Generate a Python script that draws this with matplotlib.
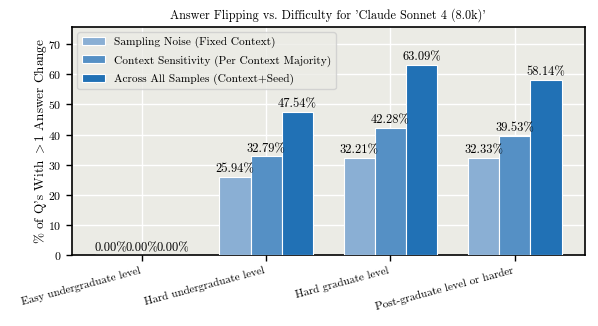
import numpy as np
import matplotlib
matplotlib.use("Agg")
import matplotlib.pyplot as plt

plt.rcParams['font.family'] = ['cmr10', 'DejaVu Serif']
plt.rcParams['mathtext.fontset'] = 'cm'
plt.rcParams['axes.formatter.use_mathtext'] = True

categories = ["Easy undergraduate level", "Hard undergraduate level",
              "Hard graduate level", "Post-graduate level or harder"]
series_names = ["Sampling Noise (Fixed Context)",
                "Context Sensitivity (Per Context Majority)",
                "Across All Samples (Context+Seed)"]
sampling_noise = [0.00, 25.94, 32.21, 32.33]
context_sens = [0.00, 32.79, 42.28, 39.53]
across_all = [0.00, 47.54, 63.09, 58.14]
colors = ["#8aafd4", "#5590c5", "#2171b5"]

fig = plt.figure(figsize=(5.98, 3.26), dpi=100)
ax = fig.add_axes([0.12, 0.217, 0.858, 0.701])
ax.set_facecolor("#ebebe5")

x = np.arange(len(categories))
width = 0.25
all_series = [sampling_noise, context_sens, across_all]
for i, (vals, name, col) in enumerate(zip(all_series, series_names, colors)):
    bars = ax.bar(x + (i - 1) * width, vals, width, label=name, color=col,
                  edgecolor="white", linewidth=0.8, zorder=3)
    for b, v in zip(bars, vals):
        ax.annotate(f"{v:.2f}%", (b.get_x() + b.get_width() / 2, v),
                    xytext=(0, 1), textcoords="offset points",
                    ha="center", va="bottom", fontsize=9, zorder=4)

ax.set_ylim(0, max(across_all) * 1.2)
ax.set_xticks(x)
ax.set_xticklabels(categories, rotation=15, ha="right", fontsize=8)
ax.tick_params(axis="y", labelsize=8.5)
ax.tick_params(direction="out", length=4, width=1, color="black")
ax.grid(True, color="white", linewidth=1, zorder=0)
ax.set_axisbelow(True)
for s in ax.spines.values():
    s.set_color("black")
    s.set_linewidth(1.2)

ax.set_ylabel(r"% of Q's With $>1$ Answer Change", fontsize=9.5, labelpad=-1)
ax.set_title("Answer Flipping vs. Difficulty for 'Claude Sonnet 4 (8.0k)'", fontsize=8.8)
leg = ax.legend(loc="upper left", fontsize=8.2, frameon=True, fancybox=True,
                labelspacing=0.6)
leg.get_frame().set_facecolor("#ebebe5")
leg.get_frame().set_edgecolor("#cccccc")

fig.savefig("out.png", dpi=100)
